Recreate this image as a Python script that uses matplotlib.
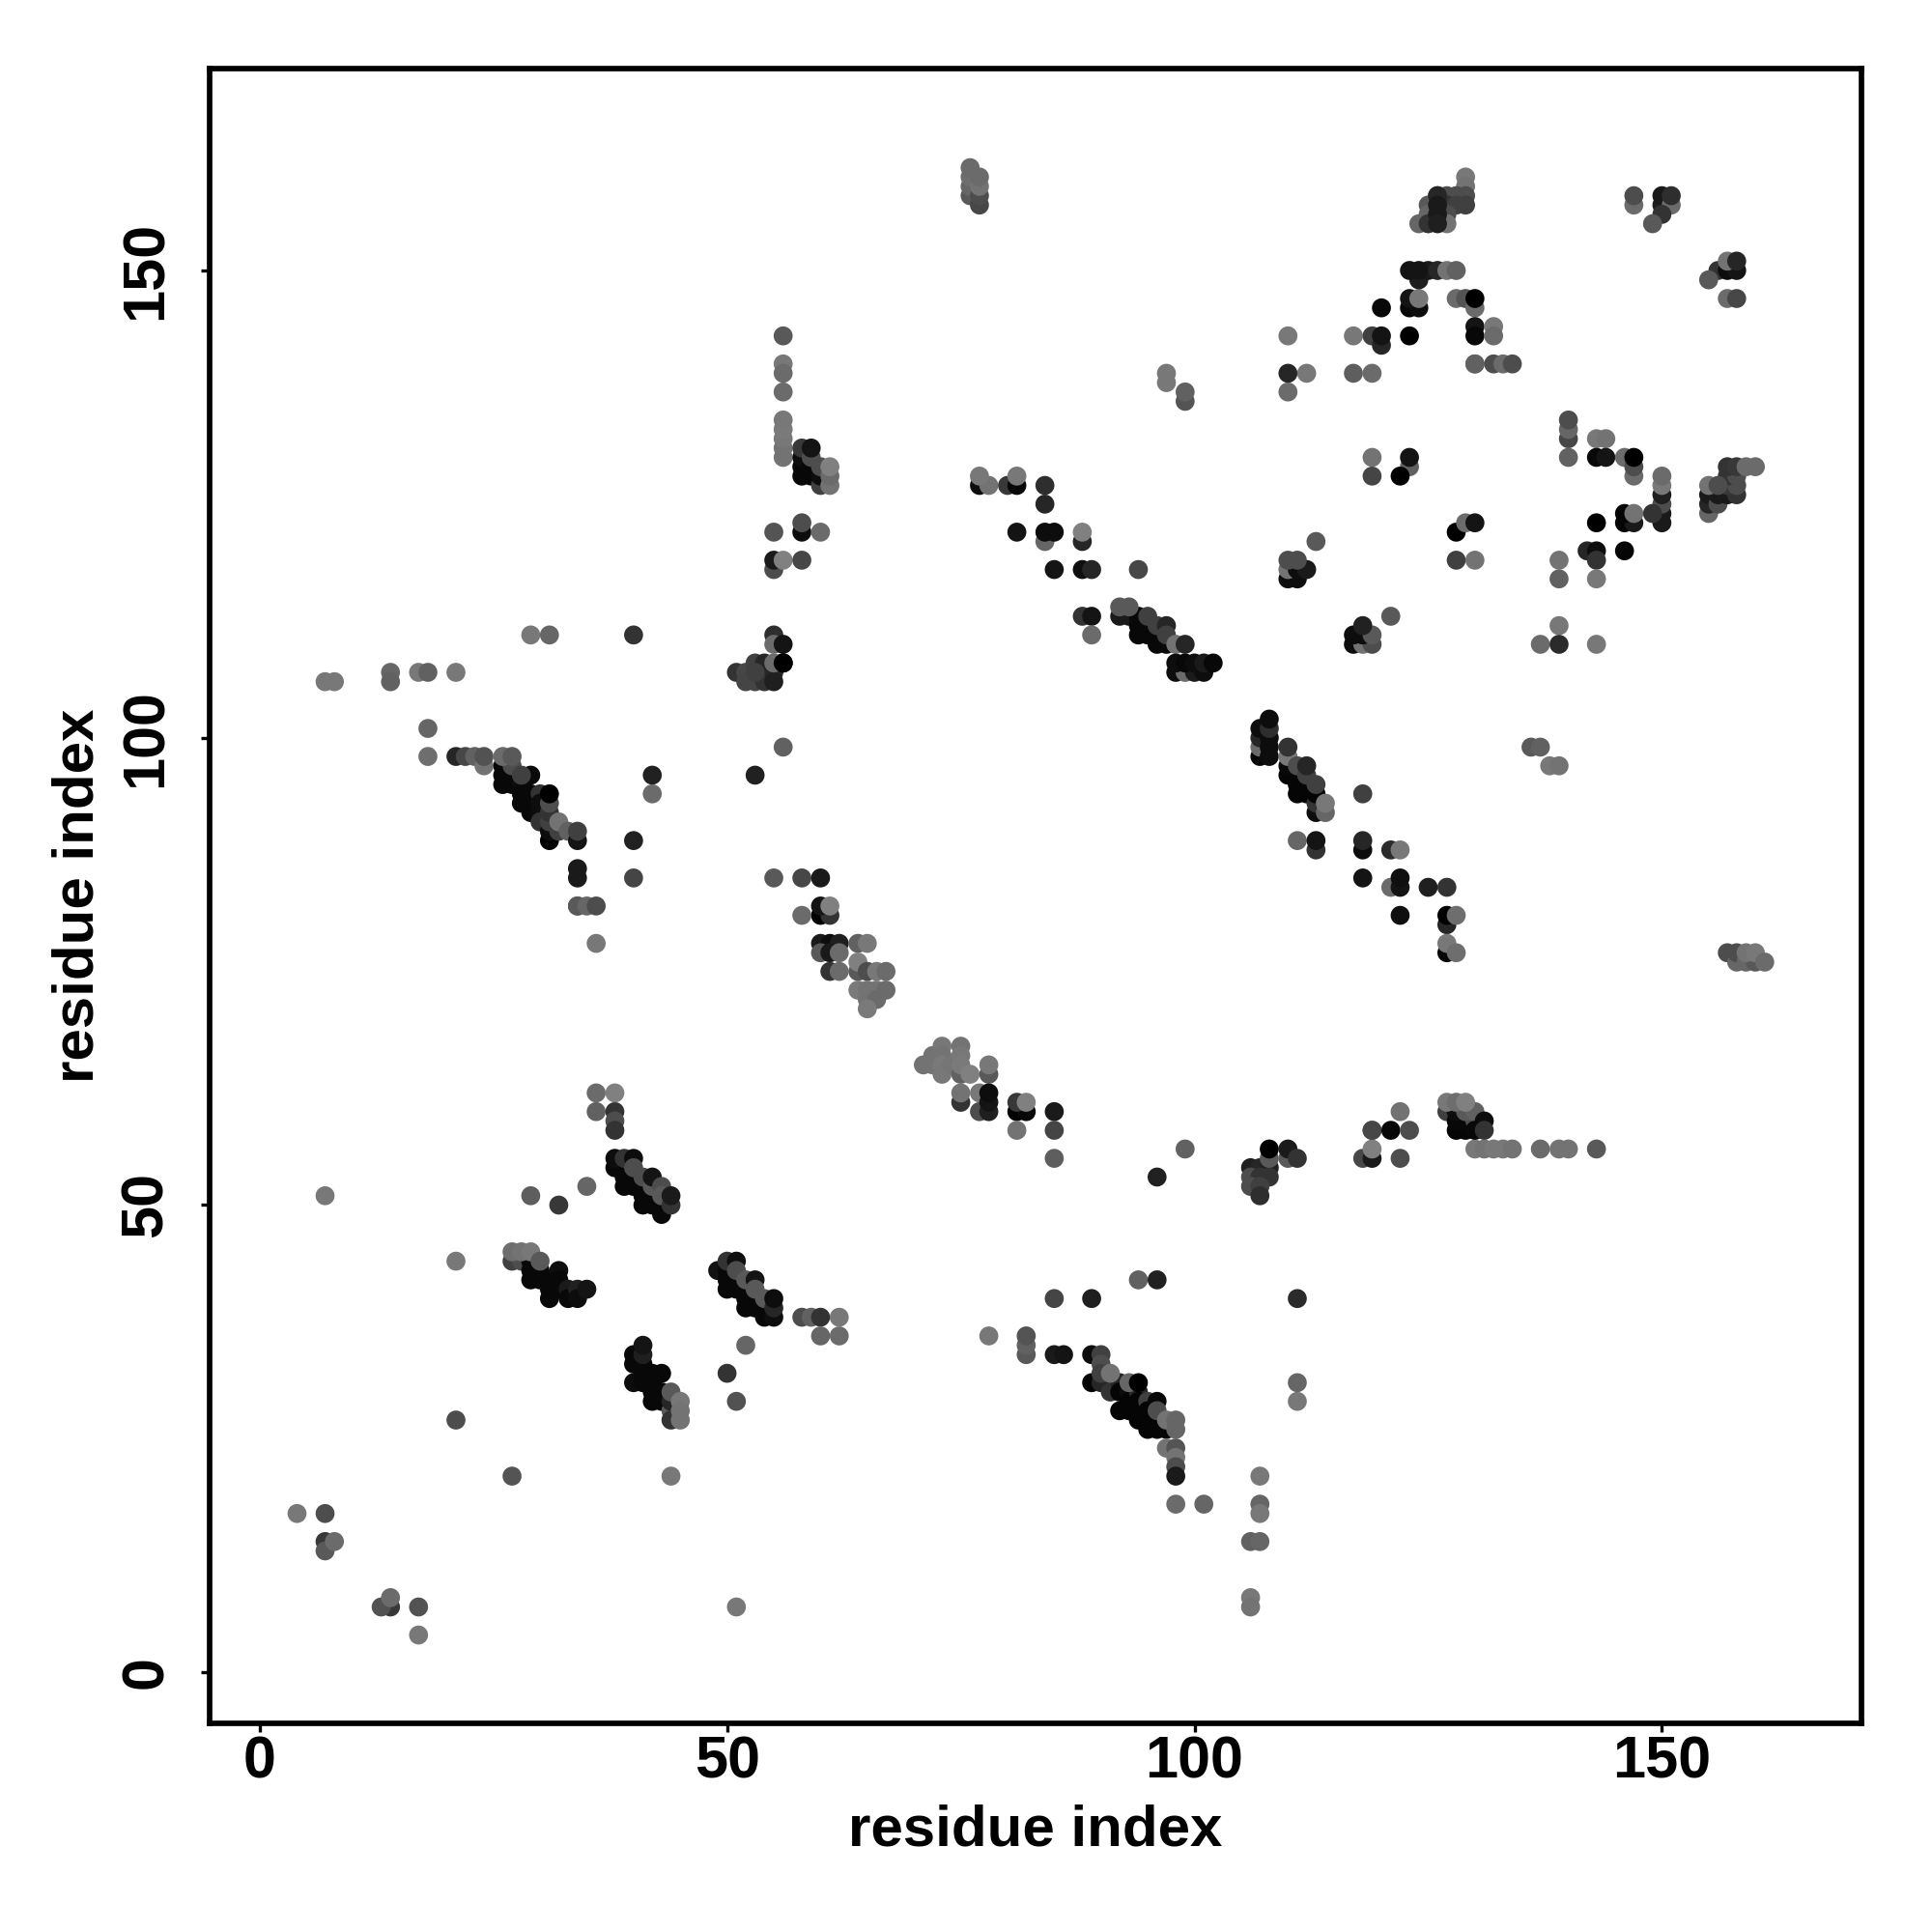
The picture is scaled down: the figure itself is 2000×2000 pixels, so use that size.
import matplotlib
matplotlib.use("Agg")
import matplotlib.pyplot as plt

plt.rcParams['font.family'] = ['Liberation Sans', 'DejaVu Sans']

tick_values = [0, 50, 100, 150]
axis_label = "residue index"

# bottom left part of the map
low_x = [4, 7, 7, 7, 8, 14, 13, 14, 17, 17, 51, 27, 44, 21, 21, 7, 29, 32, 35, 50, 51, 52]
low_y = [17, 17, 14, 13, 14, 7, 7, 8, 7, 4, 7, 21, 21, 27, 44, 51, 51, 50, 52, 32, 29, 35]
low_s = [.47, .3, .22, .35, .42, .22, .32, .42, .32, .47, .47, .33, .47, .3, .47, .47, .37, .22, .4, .2, .32, .4]

band1_x = [40, 40, 40, 41, 41, 41, 42, 42, 42, 42, 43, 43, 43, 44, 44, 44, 41, 41, 44, 45, 45, 45]
band1_y = [34, 33, 31, 33, 32, 31, 32, 31, 30, 29, 32, 30, 29, 28, 27, 29, 34, 35, 30, 29, 28, 27]
band1_s = [.03, .03, .05, .03, .03, .03, .03, .03, .03, .03, .03, .03, .03, .35, .2, .15, .12, .08, .35, .47, .45, .45]

band2_x = [27, 28, 29, 29, 29, 30, 30, 31, 31, 31, 32, 32, 32, 33, 33, 34, 34, 35, 27, 28, 29, 30]
band2_y = [44, 44, 44, 43, 42, 43, 42, 42, 41, 40, 43, 42, 41, 41, 40, 41, 40, 41, 45, 45, 45, 44]
band2_s = [.25, .3, .03, .03, .03, .03, .03, .03, .03, .03, .05, .03, .03, .1, .03, .13, .05, .08, .43, .45, .47, .35]

band3_x = [49, 50, 50, 50, 51, 51, 52, 52, 52, 53, 53, 54, 54, 50, 51, 51, 52, 53, 53, 54, 55, 55, 55]
band3_y = [43, 43, 42, 41, 42, 41, 41, 40, 39, 40, 39, 39, 38, 44, 44, 43, 42, 42, 41, 40, 38, 39, 40]
band3_s = [.07, .03, .03, .03, .03, .03, .03, .03, .03, .03, .03, .03, .03, .2, .06, .3, .35, .08, .35, .35, .05, .15, .05]

row38_x = [58, 59, 60, 62, 60, 62]
row38_y = [38, 38, 38, 38, 36, 36]
row38_s = [.3, .38, .2, .47, .4, .42]

band4_x = [38, 39, 39, 39, 40, 40, 41, 41, 41, 42, 42, 43, 43, 38, 39, 40, 40, 41, 42, 42, 43, 43, 44, 44]
band4_y = [54, 54, 53, 52, 53, 52, 52, 51, 50, 51, 50, 50, 49, 55, 55, 55, 54, 53, 52, 53, 52, 51, 50, 51]
band4_s = [.03, .03, .03, .03, .03, .03, .03, .03, .03, .03, .03, .03, .03, .05, .2, .05, .3, .3, .35, .08, .3, .35, .2, .1]

col38_x = [36, 38, 38, 38, 36, 38]
col38_y = [60, 60, 59, 58, 62, 62]
col38_s = [.38, .2, .3, .2, .42, .5]

# middle diagonal, lower half
mid_x = [71, 72, 72, 73, 73, 73, 73, 74, 75, 75, 75, 75, 76, 78, 78]
mid_y = [65, 66, 65, 67, 66, 65, 64, 65, 67, 66, 64, 65, 64, 64, 65]
mid_s = [.45, .45, .45, .47, .45, .48, .47, .46, .45, .47, .38, .48, .5, .35, .47]

mid2_x = [75, 75, 77, 77, 78, 78, 78, 81, 82, 81, 82, 81, 85, 85, 85, 99, 96]
mid2_y = [61, 62, 60, 62, 60, 61, 62, 60, 60, 61, 61, 58, 60, 58, 55, 56, 53]
mid2_s = [.2, .45, .3, .47, .12, .08, .05, 0, .03, .22, .5, .45, .1, .27, .37, .38, .13]

tail_x = [94, 96, 85, 89, 111, 78, 82, 82, 82, 85, 86, 111, 111]
tail_y = [42, 42, 40, 40, 40, 36, 34, 35, 36, 34, 34, 31, 29]
tail_s = [.38, .13, .27, .12, .17, .47, .35, .38, .33, .1, .08, .4, .47]

band5_x = [89, 89, 90, 91, 92, 92, 92, 93, 93, 93, 94, 94, 94, 95, 95, 95, 96, 96, 96, 97]
band5_y = [34, 31, 31, 30, 31, 30, 28, 30, 29, 28, 30, 29, 27, 29, 28, 27, 29, 27, 26, 26]
band5_s = [.05, .02, .15, .2, .15, .02, .02, .05, .02, .02, .15, .02, .02, .25, .02, .02, .03, .02, .02, .02]

band5b_x = [95, 90, 90, 90, 91, 93, 94, 96, 97, 98, 98, 97, 98, 98, 98, 98, 98, 101, 107, 107, 107, 106, 107, 106, 106]
band5b_y = [26, 34, 33, 32, 32, 31, 31, 28, 27, 27, 26, 24, 24, 23, 22, 21, 18, 18, 21, 18, 17, 14, 14, 8, 7]
band5b_s = [.02, .25, .3, .25, .45, .4, 0, .3, .45, .4, .4, .45, .33, .45, .3, .1, .42, .4, .47, .4, .47, .38, .4, .47, .45]

# row 55/56 strip on the right of the lower half
strip_x = [106, 107, 108, 106, 107, 108, 106, 107, 107, 108, 108, 110, 110, 111]
strip_y = [54, 54, 54, 53, 53, 53, 52, 52, 51, 55, 56, 55, 56, 55]
strip_s = [.12, .15, .13, .3, .2, .2, .3, .25, .18, .35, 0, .35, .1, .2]

strip2_x = [118, 119, 119, 122, 119, 119, 121, 123, 122, 127, 128, 129, 128, 129, 130, 128, 129, 130, 131, 127, 128, 129]
strip2_y = [55, 55, 56, 55, 58, 58, 58, 58, 60, 60, 58, 58, 59, 59, 59, 60, 60, 60, 59, 61, 61, 61]
strip2_s = [.28, .1, .5, .3, .28, .28, .03, .3, .45, .25, .02, .02, .03, .03, .3, .05, .35, .38, .05, .47, .43, .5]

row56_x = [130, 131, 132, 133, 134, 137, 139, 140, 143, 130, 131]
row56_y = [56, 56, 56, 56, 56, 56, 56, 56, 56, 58, 58]
row56_s = [.47, .45, .47, .47, .45, .42, .45, .45, .35, .03, .2]

# upper left of the diagonal
top_a_x = [7, 8, 14, 14, 17, 18, 21, 18, 18, 29, 31, 40, 42, 42, 40, 40, 53, 56]
top_a_y = [106, 106, 107, 106, 107, 107, 107, 101, 98, 111, 111, 111, 96, 94, 89, 85, 96, 99]
top_a_s = [.47, .47, .4, .38, .47, .38, .47, .4, .43, .47, .4, .2, .13, .42, .13, .27, .13, .38]

band6_x = [21, 22, 23, 24, 24, 26, 26, 26, 27, 27, 27, 28, 28, 28, 29, 29, 29, 29, 30, 30, 30]
band6_y = [98, 98, 98, 97, 98, 97, 96, 95, 96, 95, 97, 95, 94, 93, 94, 93, 92, 96, 94, 93, 92]
band6_s = [.15, .28, .38, .45, .32, .03, .03, .03, .03, .03, .3, .05, .03, .03, .03, .03, .03, .04, .2, .05, .05]

band6b_x = [26, 27, 28, 30, 31, 31, 31, 31, 31, 31, 32, 32, 33, 34, 34, 34, 34, 34, 34, 35, 36, 36]
band6b_y = [98, 98, 96, 91, 89, 90, 91, 92, 93, 94, 90, 91, 90, 89, 90, 86, 85, 82, 82, 82, 82, 78]
band6b_s = [.42, .35, .25, .2, 0, .05, .25, .2, .3, 0, .25, .45, .38, .08, .25, .1, .1, .35, .35, .4, .3, .47]

cross_x = [55, 58, 60, 60, 61, 60, 61, 58, 60, 61, 62, 64, 65, 60, 61, 62]
cross_y = [85, 85, 85, 81, 81, 82, 82, 81, 78, 78, 78, 78, 78, 77, 77, 77]
cross_s = [.35, .28, .1, 0, .2, .08, .5, .42, .1, .05, .12, .38, .47, .35, .1, .42]

cross2_x = [61, 62, 64, 64, 65, 66, 67, 64, 65, 66, 67, 65, 66, 65]
cross2_y = [75, 75, 75, 76, 75, 75, 75, 73, 73, 73, 73, 72, 72, 71]
cross2_s = [.2, .42, .35, .5, .3, .47, .42, .48, .45, .45, .42, .45, .42, .48]

cluster_x = [51, 52, 52, 53, 53, 54, 54, 54, 55, 55, 55, 55, 56, 56, 56, 53, 55, 56]
cluster_y = [107, 107, 106, 108, 106, 108, 107, 106, 107, 106, 111, 110, 110, 108, 108, 107, 108, 108]
cluster_s = [.2, .28, .27, .25, .27, .15, .15, .2, .15, .12, .18, .42, .08, 0, 0, .25, .42, 0]

col56_x = [56, 56, 56, 56, 56, 56, 56, 56, 56, 58, 58, 58, 59, 58, 59, 59, 60, 60, 60, 61, 61, 61]
col56_y = [143, 140, 139, 137, 130, 131, 132, 133, 134, 129, 128, 130, 129, 131, 128, 130, 127, 128, 129, 127, 128, 129]
col56_s = [.35, .47, .42, .42, .45, .45, .47, .48, .47, .03, .03, .05, .03, .22, .03, .3, .25, .05, .3, .45, .42, .5]

pt122_x = [59, 55, 58, 58, 60, 55, 55, 56, 58]
pt122_y = [131, 122, 122, 123, 122, 118, 119, 119, 119]
pt122_s = [.08, .33, .05, .3, .42, .3, .1, .5, .28]

# column at the top, residue 76 and 77
col76_x = [76, 76, 76, 76, 77, 77, 77, 77]
col76_y = [158, 159, 160, 161, 157, 158, 159, 160]
col76_s = [.35, .4, .43, .42, .28, .3, .45, .42]

# middle diagonal, upper half
diag_x = [77, 78, 77, 80, 81, 81, 84, 84, 81, 84, 85, 84, 88, 88, 85, 88, 89, 94, 88, 89, 89]
diag_y = [127, 127, 128, 127, 127, 128, 127, 125, 122, 121, 122, 122, 121, 122, 118, 118, 118, 118, 113, 113, 111]
diag_s = [.05, .45, .47, .22, .03, .47, .18, .15, .08, .4, .05, .05, .15, .5, .08, .06, .15, .28, .2, .08, .42]

diag2_x = [92, 93, 94, 94, 94, 95, 95, 96, 96, 97, 92, 93, 95, 96, 97, 97, 98, 99]
diag2_y = [113, 113, 113, 112, 111, 112, 111, 111, 110, 110, 114, 114, 113, 112, 112, 111, 110, 110]
diag2_s = [.1, .1, .03, .03, .03, .03, .03, .03, .03, .03, .35, .35, .25, .25, .15, .25, .45, .15]

row108_x = [98, 99, 100, 101, 98, 99, 100, 101, 102]
row108_y = [107, 107, 107, 107, 108, 108, 108, 108, 108]
row108_s = [.05, .42, .1, .05, .05, .03, .05, .1, .03]

band7_x = [107, 107, 107, 107, 108, 108, 108, 108, 108, 110, 110, 110, 111, 111, 111, 111, 112, 112, 112, 112]
band7_y = [98, 99, 100, 101, 98, 99, 100, 101, 102, 96, 97, 98, 94, 95, 96, 97, 94, 95, 96, 97]
band7_s = [.03, .42, .15, .05, .05, .05, .05, .18, .05, .02, .03, .47, .02, .02, .02, .3, .02, .02, .25, .15]

band7b_x = [110, 113, 113, 113, 113, 114, 114, 118, 111, 113, 113, 118, 118, 121, 122, 118, 121, 122, 122, 125, 127]
band7b_y = [99, 92, 93, 94, 95, 92, 93, 94, 89, 88, 89, 88, 89, 88, 88, 85, 84, 84, 85, 84, 84]
band7b_s = [.2, .05, .2, .02, .25, .4, .47, .25, .4, .2, .08, .05, .15, .17, .47, .08, .42, .08, .06, .12, .2]

end7_x = [122, 127, 127, 128, 127, 127, 128]
end7_y = [81, 80, 81, 81, 77, 78, 77]
end7_s = [.06, .15, 0, .43, .02, .47, .43]

# far right, loose points
far_x = [136, 137, 138, 139, 157, 158, 158, 159, 160, 159, 160, 161]
far_y = [99, 99, 97, 97, 77, 76, 77, 76, 76, 77, 77, 76]
far_s = [.35, .38, .47, .45, .3, .4, .3, .4, .35, .45, .47, .42]

# upper right corner
hi_x = [97, 97, 99, 99, 110, 110, 110, 112, 117, 117, 119, 119, 120, 120, 123]
hi_y = [138, 139, 136, 137, 143, 139, 137, 139, 143, 139, 143, 139, 142, 143, 143]
hi_s = [.47, .47, .33, .38, .47, .15, .42, .47, .47, .37, .25, .42, .15, .08, 0]

hi2_x = [120, 123, 124, 123, 124, 124, 123, 125, 124, 126, 127, 128, 128, 129, 130, 130, 130, 130, 130, 130, 132, 132, 132, 133, 134]
hi2_y = [146, 146, 146, 147, 147, 149, 150, 150, 150, 150, 150, 150, 147, 147, 146, 147, 144, 143, 140, 140, 144, 143, 140, 140, 140]
hi2_s = [.03, .03, .05, .08, .47, .12, .08, .1, .08, .15, .45, .38, .42, .33, .42, 0, .08, .03, .38, .38, .47, .42, .3, .42, .3]

peak_x = [129, 129, 126, 127, 128, 129, 125, 127, 128, 129, 125, 127, 124, 125, 127, 126, 126, 126, 126]
peak_y = [160, 159, 158, 158, 158, 158, 157, 157, 157, 157, 156, 156, 155, 155, 155, 158, 157, 156, 155]
peak_s = [.47, .45, .2, .3, .3, .3, .35, .2, .25, .25, .4, .3, .4, .2, .45, .15, .1, .1, .12]

corner_x = [147, 147, 150, 150, 151, 150, 149, 151, 156, 157, 158, 155, 157, 158, 157, 158]
corner_y = [157, 158, 157, 158, 157, 156, 155, 158, 150, 150, 150, 149, 151, 151, 147, 147]
corner_s = [.42, .3, .12, .1, .42, .2, .35, .18, .2, .05, .08, .35, .45, .15, .42, .28]

hi3_x = [140, 140, 140, 140, 143, 144, 143, 144, 146, 147, 147, 147, 150, 150, 150, 150, 150, 149, 150]
hi3_y = [132, 133, 134, 130, 132, 132, 130, 130, 130, 128, 129, 130, 123, 124, 125, 126, 127, 124, 128]
hi3_s = [.28, .4, .3, .38, .47, .45, .03, .08, .42, .42, .3, 0, .1, .1, .3, .12, .47, .2, .42]

hi4_x = [146, 147, 146, 147, 143, 142, 143, 146, 143, 139, 139, 143, 139, 137, 139, 143]
hi4_y = [123, 123, 124, 124, 123, 120, 120, 120, 119, 119, 117, 117, 112, 110, 110, 110]
hi4_s = [.02, .1, .02, .45, 0, .15, .05, .02, .2, .45, .38, .47, .47, .42, .17, .47]

right_x = [155, 155, 155, 156, 156, 157, 158, 157, 158, 157, 158, 155, 156, 157, 158, 159, 160]
right_y = [124, 125, 126, 125, 126, 126, 126, 127, 127, 128, 128, 127, 127, 129, 129, 129, 129]
right_s = [.4, .15, .1, .3, .1, .1, .2, .22, .3, .2, .3, .45, .3, .2, .22, .42, .42]

inner_x = [119, 123, 123, 119, 122, 128, 129, 130, 128, 130, 113, 110, 111, 110, 111, 112, 110, 111]
inner_y = [130, 129, 130, 128, 128, 122, 123, 123, 119, 119, 121, 117, 117, 118, 118, 118, 119, 119]
inner_s = [.45, .38, .08, .27, 0, 0, .42, .08, .25, .45, .35, .05, .05, .45, .05, .1, .3, .3]

inner2_x = [117, 118, 119, 117, 118, 119, 118, 121]
inner2_y = [110, 110, 110, 111, 111, 111, 112, 113]
inner2_s = [.05, .45, .3, .05, .05, .35, .13, .35]

groups = [
    (low_x, low_y, low_s), (band1_x, band1_y, band1_s), (band2_x, band2_y, band2_s),
    (band3_x, band3_y, band3_s), (row38_x, row38_y, row38_s), (band4_x, band4_y, band4_s),
    (col38_x, col38_y, col38_s), (mid_x, mid_y, mid_s), (mid2_x, mid2_y, mid2_s),
    (tail_x, tail_y, tail_s), (band5_x, band5_y, band5_s), (band5b_x, band5b_y, band5b_s),
    (strip_x, strip_y, strip_s), (strip2_x, strip2_y, strip2_s), (row56_x, row56_y, row56_s),
    (top_a_x, top_a_y, top_a_s), (band6_x, band6_y, band6_s), (band6b_x, band6b_y, band6b_s),
    (cross_x, cross_y, cross_s), (cross2_x, cross2_y, cross2_s), (cluster_x, cluster_y, cluster_s),
    (col56_x, col56_y, col56_s), (pt122_x, pt122_y, pt122_s), (col76_x, col76_y, col76_s),
    (diag_x, diag_y, diag_s), (diag2_x, diag2_y, diag2_s), (row108_x, row108_y, row108_s),
    (band7_x, band7_y, band7_s), (band7b_x, band7b_y, band7b_s), (end7_x, end7_y, end7_s),
    (far_x, far_y, far_s), (hi_x, hi_y, hi_s), (hi2_x, hi2_y, hi2_s), (peak_x, peak_y, peak_s),
    (corner_x, corner_y, corner_s), (hi3_x, hi3_y, hi3_s), (hi4_x, hi4_y, hi4_s),
    (right_x, right_y, right_s), (inner_x, inner_y, inner_s), (inner2_x, inner2_y, inner2_s),
]

fig = plt.figure(figsize=(10, 10), dpi=200)
ax = fig.add_axes([217 / 2000, 1 - 1783.5 / 2000, 1710 / 2000, 1712.5 / 2000])

for xs, ys, shades in groups:
    colors = [str(s) for s in shades]
    ax.scatter(xs, ys, s=50, c=colors, linewidths=0, zorder=3)

ax.set_xlim(-5.35, 171.35)
ax.set_ylim(-5.4, 171.6)
ax.set_xticks(tick_values)
ax.set_yticks(tick_values)
ax.tick_params(axis='x', length=3.3, width=1.2, labelsize=22, pad=1.5)
ax.tick_params(axis='y', length=3.3, width=1.2, labelsize=22, pad=9.7)
for lab in ax.get_xticklabels():
    lab.set_fontweight('bold')
for lab in ax.get_yticklabels():
    lab.set_fontweight('bold')
    lab.set_rotation(90)
    lab.set_va('center')
for spine in ax.spines.values():
    spine.set_linewidth(2.05)

ax.set_xlabel(axis_label, fontsize=21.6, fontweight='bold', va='center')
ax.set_ylabel(axis_label, fontsize=21.6, fontweight='bold', va='center')
ax.xaxis.set_label_coords(1072 / 2000, 1 - 1895 / 2000, transform=fig.transFigure)
ax.yaxis.set_label_coords(81.5 / 2000, 1 - 927 / 2000, transform=fig.transFigure)

fig.savefig("out.png", dpi=200)
